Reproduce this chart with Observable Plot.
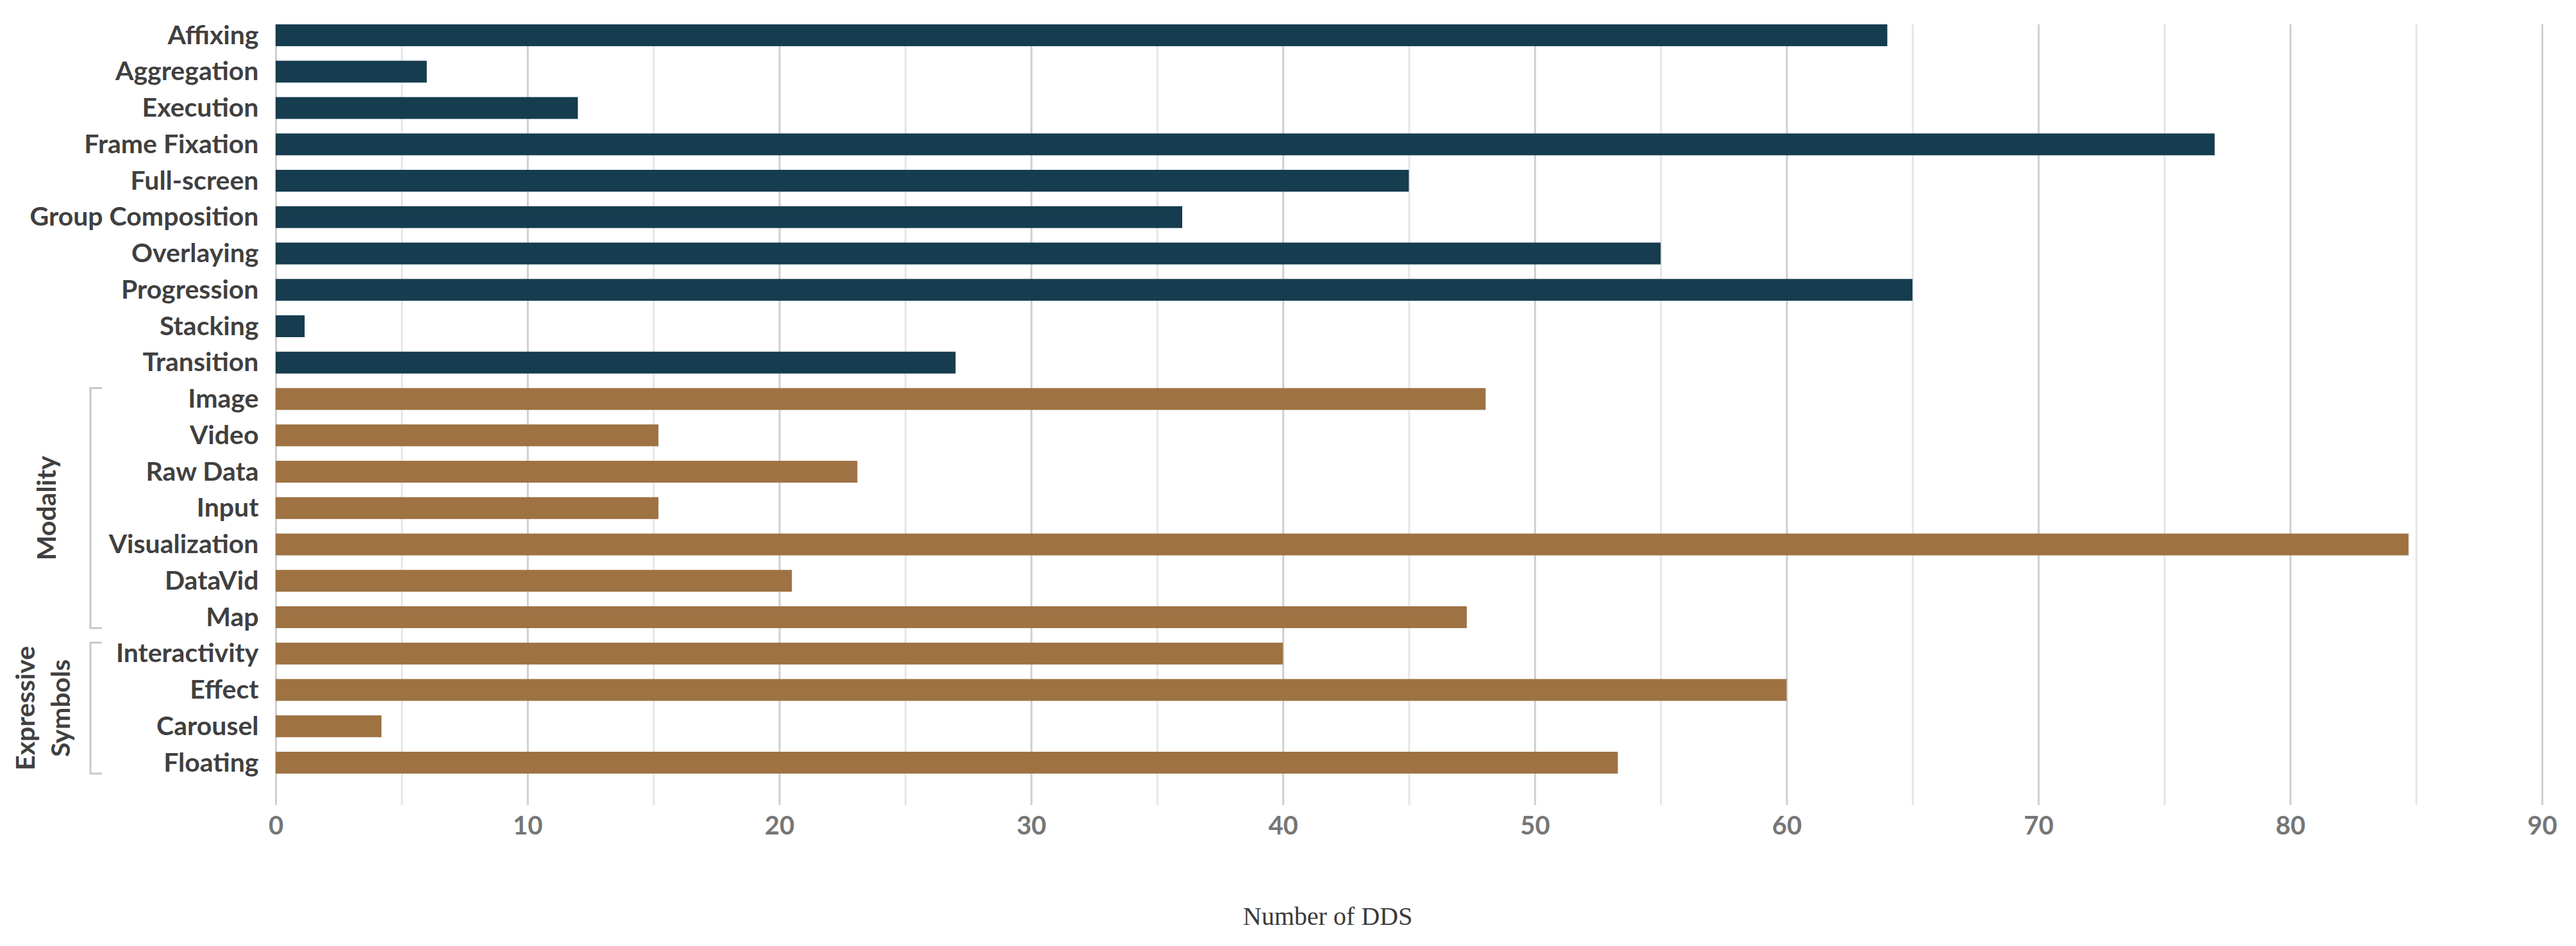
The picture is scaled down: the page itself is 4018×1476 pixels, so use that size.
<!DOCTYPE html>
<html>
<head>
<meta charset="utf-8">
<script src="https://cdn.jsdelivr.net/npm/d3@7"></script>
<script src="https://cdn.jsdelivr.net/npm/@observablehq/plot@0.6"></script>
<style>
html, body { margin: 0; padding: 0; background: #ffffff; }
svg { display: block; }
</style>
</head>
<body>
<div id="chart"></div>
<script>
// ---- data ----
const categories = ["Affixing", "Aggregation", "Execution", "Frame Fixation", "Full-screen", "Group Composition", "Overlaying", "Progression", "Stacking", "Transition", "Image", "Video", "Raw Data", "Input", "Visualization", "DataVid", "Map", "Interactivity", "Effect", "Carousel", "Floating"];
const values = [64, 6, 12, 77, 45, 36, 55, 65, 1.15, 27, 48.05, 15.2, 23.1, 15.2, 84.7, 20.5, 47.3, 40, 60, 4.2, 53.3];
const groups = ["Technique", "Technique", "Technique", "Technique", "Technique", "Technique", "Technique", "Technique", "Technique", "Technique", "Modality", "Modality", "Modality", "Modality", "Modality", "Modality", "Modality", "Expressive Symbols", "Expressive Symbols", "Expressive Symbols", "Expressive Symbols"];
const groupLabelNames = ["Modality", "Expressive Symbols"];
const groupLabelLines = [["Modality"], ["Expressive", "Symbols"]];
const xTickValues = [0, 10, 20, 30, 40, 50, 60, 70, 80, 90];
const gridValues = [0, 5, 10, 15, 20, 25, 30, 35, 40, 45, 50, 55, 60, 65, 70, 75, 80, 85, 90];
const xLabel = "Number of DDS";
const groupColors = {"Technique": "#163c4f", "Modality": "#9e7243", "Expressive Symbols": "#9e7243"};

const data = categories.map((c, i) => ({category: c, value: values[i], group: groups[i]}));

// ---- layout ----
const W = 4018, H = 1476;
const mL = 430, mR = 53, mT = 38, mB = 269;
const FONT = "Lato, 'Open Sans', sans-serif";

const plot = Plot.plot({
  width: W,
  height: H,
  marginLeft: mL,
  marginRight: mR,
  marginTop: mT,
  marginBottom: mB,
  style: {fontFamily: FONT, background: "#ffffff", overflow: "visible"},
  x: {domain: [0, 90]},
  y: {domain: categories, paddingInner: 0.4, paddingOuter: 0, align: 0, round: false},
  color: {type: "identity"},
  marks: [
    Plot.ruleX(gridValues, {
      x: d => d,
      stroke: d => (d % 10 === 0 ? "#cfcfcf" : "#e6e6e6"),
      strokeWidth: 3,
      insetBottom: -49
    }),
    Plot.barX(data, {
      x: "value",
      y: "category",
      fill: d => groupColors[d.group]
    }),
    Plot.axisX({
      ticks: xTickValues,
      tickSize: 0,
      tickPadding: 66,
      fontSize: 40,
      fontWeight: "bold",
      color: "#767676",
      label: null
    }),
    Plot.axisY({
      tickSize: 0,
      tickPadding: 27,
      fontSize: 41,
      fontWeight: "bold",
      color: "#404040",
      label: null
    }),
    Plot.text([xLabel], {
      text: d => d,
      frameAnchor: "bottom",
      dy: 223,
      dx: -127,
      fontSize: 40,
      fontFamily: "'Liberation Serif', 'DejaVu Serif', serif",
      fill: "#3a3a3a",
      lineAnchor: "middle"
    })
  ]
});

document.getElementById("chart").appendChild(plot);

// ---- group brackets & rotated group labels (positioned with Plot's y scale) ----
const y = plot.scale("y");
const bw = y.bandwidth;
const svg = d3.select(plot);
const brX = mL - 289, brEnd = mL - 271;
const baseX = {"Modality": [87], "Expressive Symbols": [54, 109]};

groupLabelNames.forEach((g, gi) => {
  const cats = categories.filter((c, i) => groups[i] === g);
  const top = y.apply(cats[0]);
  const bot = y.apply(cats[cats.length - 1]) + bw;
  svg.append("path")
    .attr("d", `M${brEnd},${top}H${brX}V${bot}H${brEnd}`)
    .attr("fill", "none")
    .attr("stroke", "#c8c8c8")
    .attr("stroke-width", 3);
  const mid = (top + bot) / 2;
  groupLabelLines[gi].forEach((line, li) => {
    svg.append("text")
      .attr("transform", `translate(${baseX[g][li]},${mid}) rotate(-90)`)
      .attr("text-anchor", "middle")
      .attr("font-family", FONT)
      .attr("font-size", 41)
      .attr("font-weight", "bold")
      .attr("fill", "#404040")
      .text(line);
  });
});
</script>
</body>
</html>
